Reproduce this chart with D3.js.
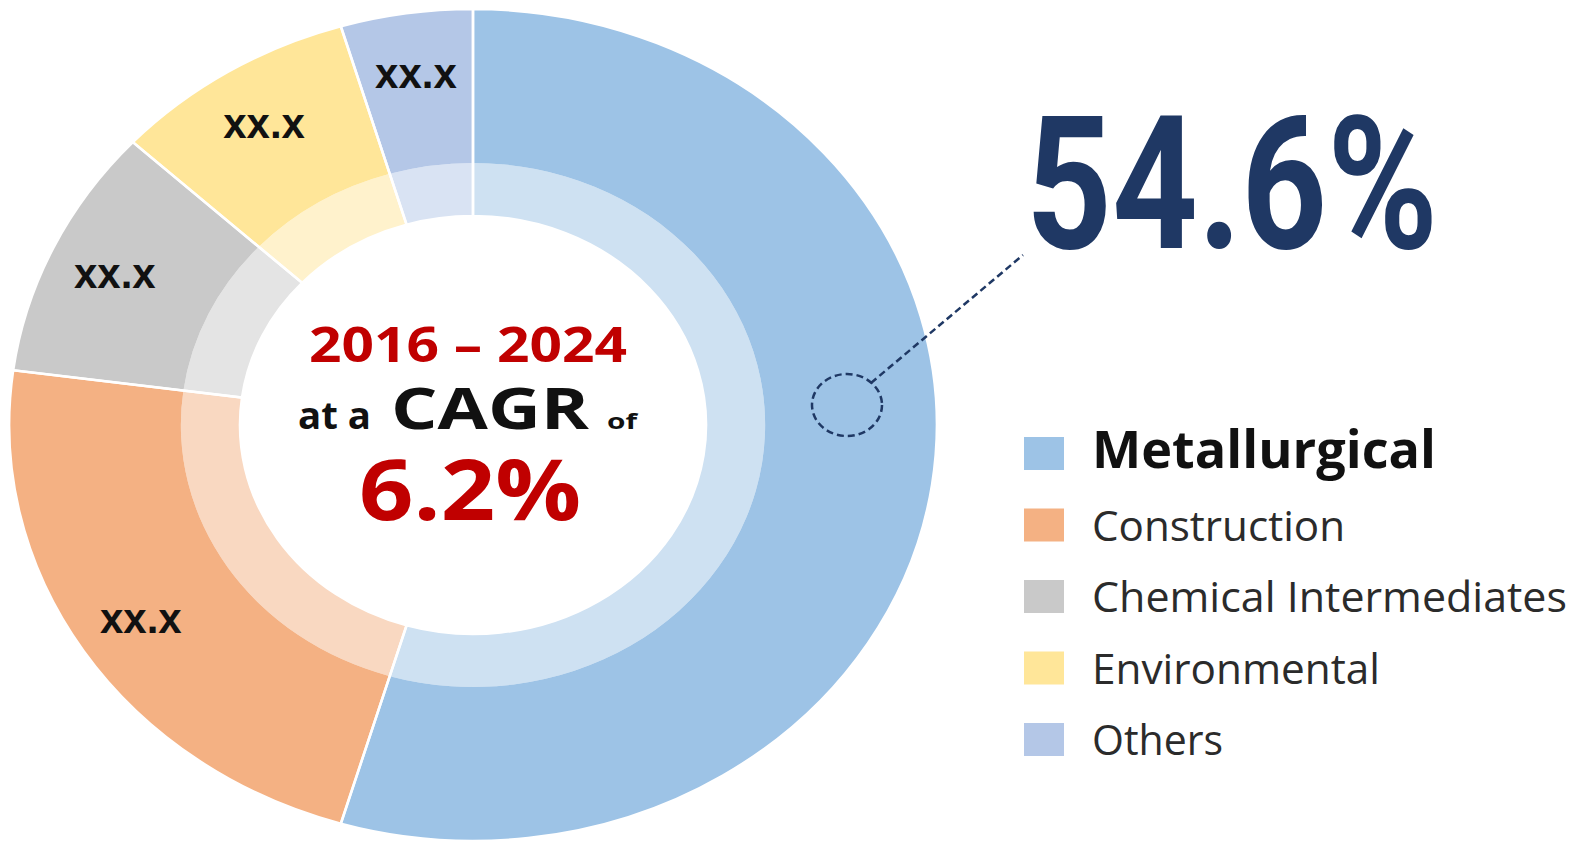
<!DOCTYPE html>
<html>
<head>
<meta charset="utf-8">
<script src="https://cdn.jsdelivr.net/npm/d3@7"></script>
<style>
  html, body { margin: 0; padding: 0; background: #ffffff; }
  svg { display: block; }
</style>
</head>
<body>
<svg id="chart" width="1585" height="843"></svg>
<script>
// ---- data ----
const categories = ["Metallurgical", "Construction", "Chemical Intermediates", "Environmental", "Others"];
const shares = [54.6, 22.5, 9.8, 8.5, 4.6];
const sliceLabels = ["", "xx.x", "xx.x", "xx.x", "xx.x"];
const colors = ["#9DC3E6", "#F4B183", "#C9C9C9", "#FFE699", "#B4C7E7"];
const highlightText = "54.6%";
const periodText = "2016 – 2024";
const cagrValueText = "6.2%";

// ---- layout ----
const svg = d3.select("#chart");
const cx = 473, cy = 425, sx = 1.115;
const rOuter = 416, rMid = 262, rInner = 209;

const pie = d3.pie().sort(null).value(d => d).startAngle(0).endAngle(2 * Math.PI);
const arcsData = pie(shares);

const outerArc = d3.arc().innerRadius(rMid).outerRadius(rOuter);
const innerArc = d3.arc().innerRadius(rInner).outerRadius(rMid);
const labelArc = d3.arc().innerRadius(300).outerRadius(410);

const g = svg.append("g").attr("transform", `translate(${cx},${cy}) scale(${sx},1)`);

g.selectAll("path.inner").data(arcsData).join("path")
  .attr("class", "inner")
  .attr("d", innerArc)
  .attr("fill", (d, i) => colors[i])
  .attr("fill-opacity", 0.5);

g.selectAll("path.outer").data(arcsData).join("path")
  .attr("class", "outer")
  .attr("d", outerArc)
  .attr("fill", (d, i) => colors[i]);

// white separators
g.selectAll("path.sep").data(arcsData).join("path")
  .attr("class", "sep")
  .attr("d", d3.arc().innerRadius(rInner).outerRadius(rOuter))
  .attr("fill", "none")
  .attr("stroke", "#ffffff")
  .attr("stroke-width", 2.5)
  .attr("vector-effect", "non-scaling-stroke");

// slice labels
svg.append("g").selectAll("text").data(arcsData).join("text")
  .attr("x", d => cx + labelArc.centroid(d)[0] * sx)
  .attr("y", d => cy + labelArc.centroid(d)[1])
  .attr("text-anchor", "middle")
  .attr("dominant-baseline", "central")
  .attr("font-family", "'Liberation Sans', Arial, sans-serif")
  .attr("font-weight", "bold")
  .attr("font-size", 42)
  .attr("fill", "#111111")
  .text((d, i) => sliceLabels[i]);

// ---- centre text ----
const ct = svg.append("g").attr("font-family", "'Open Sans', sans-serif").attr("font-weight", "bold");
ct.append("text").attr("x", 309).attr("y", 362).attr("font-size", 49)
  .attr("fill", "#C00000").attr("textLength", 318).attr("lengthAdjust", "spacingAndGlyphs")
  .text(periodText);
ct.append("text").attr("x", 298).attr("y", 429).attr("font-size", 38)
  .attr("fill", "#111111").attr("textLength", 73).attr("lengthAdjust", "spacingAndGlyphs")
  .text("at a");
ct.append("text").attr("x", 391).attr("y", 429).attr("font-size", 58)
  .attr("fill", "#111111").attr("textLength", 198).attr("lengthAdjust", "spacingAndGlyphs")
  .text("CAGR");
ct.append("text").attr("x", 607).attr("y", 429).attr("font-size", 22)
  .attr("fill", "#111111").attr("textLength", 30).attr("lengthAdjust", "spacingAndGlyphs")
  .text("of");
ct.append("text").attr("x", 359).attr("y", 520).attr("font-size", 84)
  .attr("fill", "#C00000").attr("textLength", 222).attr("lengthAdjust", "spacingAndGlyphs")
  .text(cagrValueText);

// ---- highlight callout ----
const navy = "#1F3864";
svg.append("ellipse").attr("cx", 847).attr("cy", 405).attr("rx", 35).attr("ry", 31)
  .attr("fill", "none").attr("stroke", navy).attr("stroke-width", 2.5)
  .attr("stroke-dasharray", "7 4");
svg.append("line").attr("x1", 871).attr("y1", 383).attr("x2", 1023).attr("y2", 255)
  .attr("stroke", navy).attr("stroke-width", 2.5).attr("stroke-dasharray", "7 4");
svg.append("text").attr("x", 1026).attr("y", 248)
  .attr("font-family", "Roboto, sans-serif").attr("font-weight", "bold")
  .attr("font-size", 186).attr("fill", navy)
  .attr("textLength", 412).attr("lengthAdjust", "spacingAndGlyphs")
  .text(highlightText);

// ---- legend ----
const legendY = d3.scalePoint().domain(categories).range([454, 740]);
const legendWidths = [344, 253, 475, 288, 131];
const lg = svg.append("g");
lg.selectAll("rect").data(categories).join("rect")
  .attr("x", 1024).attr("y", d => legendY(d) - 17)
  .attr("width", 40).attr("height", 33)
  .attr("fill", (d, i) => colors[i]);
lg.selectAll("text").data(categories).join("text")
  .attr("x", 1092)
  .attr("y", (d, i) => legendY(d) + (i === 0 ? 14 : 15))
  .attr("font-family", "'Open Sans', sans-serif")
  .attr("font-weight", (d, i) => i === 0 ? "bold" : "normal")
  .attr("font-size", (d, i) => i === 0 ? 52 : 42)
  .attr("fill", (d, i) => i === 0 ? "#111111" : "#2b2b2b")
  .attr("textLength", (d, i) => legendWidths[i])
  .attr("lengthAdjust", "spacingAndGlyphs")
  .text(d => d);
</script>
</body>
</html>
